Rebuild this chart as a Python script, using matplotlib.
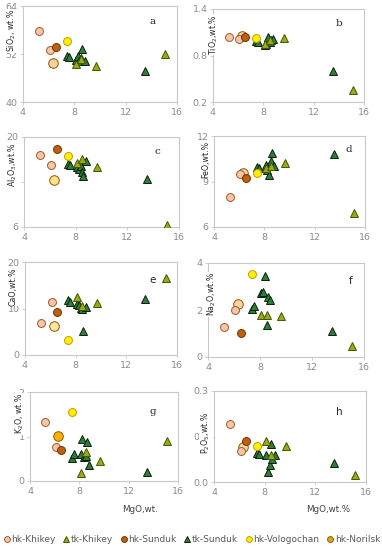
import matplotlib
matplotlib.use("Agg")
import matplotlib.pyplot as plt
from matplotlib.lines import Line2D

W, H = 382, 550

# ---------------- data ----------------
mgo_hk_khikey = [5.25, 6.1]
mgo_hk_norilsk = [6.3]
mgo_hk_sunduk = [6.55]
mgo_hk_volog = [7.4]
mgo_tk_khikey = [8.1, 8.5, 9.65, 15.1]
mgo_tk_sunduk = [7.4, 7.55, 8.1, 8.25, 8.4, 8.5, 8.6, 8.8, 13.5]

oxides = ["SiO2", "TiO2", "Al2O3", "FeO", "CaO", "Na2O", "K2O", "P2O5"]

hk_khikey = {
    "SiO2": [57.8, 53.1], "TiO2": [1.04, 1.01], "Al2O3": [17.15, 15.7], "FeO": [7.98, 9.48],
    "CaO": [6.93, 11.43], "Na2O": [1.29, 2.0], "K2O": [1.32, 0.76], "P2O5": [0.192, 0.101],
}
hk_norilsk = {
    "SiO2": [49.8], "TiO2": [1.05], "Al2O3": [13.25], "FeO": [9.53],
    "CaO": [6.14], "Na2O": [2.26], "K2O": [1.02], "P2O5": [0.115],
}
hk_sunduk = {
    "SiO2": [53.8], "TiO2": [1.035], "Al2O3": [18.1], "FeO": [9.2],
    "CaO": [9.2], "Na2O": [1.03], "K2O": [0.70], "P2O5": [0.135],
}
hk_volog = {
    "SiO2": [55.2], "TiO2": [1.02], "Al2O3": [17.05], "FeO": [9.53],
    "CaO": [3.14], "Na2O": [3.53], "K2O": [1.56], "P2O5": [0.118],
}
tk_khikey = {
    "SiO2": [49.6, 50.8, 48.9, 52.0], "TiO2": [0.95, 1.0, 1.02, 0.35],
    "Al2O3": [16.0, 16.5, 15.4, 6.3], "FeO": [9.9, 10.0, 10.2, 6.9],
    "CaO": [12.4, 10.6, 11.1, 16.6], "Na2O": [1.8, 1.79, 1.76, 0.47],
    "K2O": [0.17, 0.65, 0.46, 0.91], "P2O5": [0.135, 0.09, 0.118, 0.022],
}
tk_sunduk = {
    "SiO2": [51.5, 51.2, 50.5, 51.5, 50.2, 51.0, 53.2, 50.3, 47.8],
    "TiO2": [0.99, 0.97, 0.93, 0.95, 1.04, 0.97, 1.0, 1.01, 0.60],
    "Al2O3": [15.8, 15.6, 15.4, 15.0, 15.5, 14.5, 13.9, 16.3, 13.4],
    "FeO": [9.95, 9.9, 10.1, 9.75, 9.45, 10.35, 10.85, 10.0, 10.8],
    "CaO": [11.8, 11.5, 11.0, 10.8, 10.2, 9.9, 5.2, 10.4, 12.1],
    "Na2O": [2.04, 2.15, 2.72, 2.78, 3.46, 1.36, 2.55, 2.42, 1.1],
    "K2O": [0.52, 0.6, 0.6, 0.94, 0.55, 0.56, 0.88, 0.36, 0.2],
    "P2O5": [0.095, 0.092, 0.088, 0.033, 0.055, 0.125, 0.077, 0.09, 0.063],
}

yticks = {
    "SiO2": [40, 52, 64], "TiO2": [0.2, 0.8, 1.4], "Al2O3": [6, 13, 20], "FeO": [6, 9, 12],
    "CaO": [0, 10, 20], "Na2O": [0, 2, 4], "K2O": [0, 1, 2], "P2O5": [0.0, 0.15, 0.3],
}
ytick_labels = {
    "SiO2": ["40", "52", "64"], "TiO2": ["0.2", "0.8", "1.4"], "Al2O3": ["6", "13", "20"],
    "FeO": ["6", "9", "12"], "CaO": ["0", "10", "20"], "Na2O": ["0", "2", "4"],
    "K2O": ["0", "1", "2"], "P2O5": ["0.0", "0.2", "0.3"],
}
ylabels = {
    "SiO2": "SiO$_2$, wt.%", "TiO2": "TiO$_2$,wt.%", "Al2O3": "Al$_2$O$_3$,wt.%",
    "FeO": "FeO,wt.%", "CaO": "CaO,wt.%", "Na2O": "Na$_2$O,wt.%", "K2O": "K$_2$O, wt.%",
    "P2O5": "P$_2$O$_5$,wt.%",
}
letters = ["a", "b", "c", "d", "e", "f", "g", "h"]
xticks = [4, 8, 12, 16]
series_names = ["hk-Khikey", "tk-Khikey", "hk-Sunduk", "tk-Sunduk", "hk-Vologochan", "hk-Norilsk"]

# ---------------- layout (pixels) ----------------
# left, right, top, bottom
boxes = [
    (23, 177, 6, 102), (213, 364, 9, 102),
    (24, 179, 137, 227), (214, 365, 136, 227),
    (25, 177, 262, 355), (208, 364, 263, 357),
    (30, 178, 392, 481), (214, 366, 391, 482),
]
ylab_pos = [(12, 9), (214, 14), (13, 142), (206, 141), (13, 267), (212, 272), (20, 393), (206, 412)]
letter_pos = [(153, 21), (339, 23), (157, 152), (349, 150), (153, 280), (351, 281), (153, 412), (339, 412)]
letter_serif = [True, True, True, True, False, False, True, False]
norilsk_colors = ["#F9CFA5", "#FBD3A5", "#FFE08C", "#FBD8A8", "#FFE49A", "#FBD3A5", "#FFB000", "#FBD3A5"]

C_KH = "#F8C6A6"; E_KH = "#9C5B2E"
C_TKH = "#93AD17"; E_TKH = "#4A5200"
C_SUN = "#C0600F"; E_SUN = "#6B3300"
C_TSU = "#2F7D3B"; E_TSU = "#0A1F0A"
C_VOL = "#FFF000"; E_VOL = "#C89A00"
C_NOR_LEG = "#D9A81E"; E_NOR = "#8B5A00"

fig = plt.figure(figsize=(W / 100, H / 100), dpi=100)
fig.patch.set_facecolor("white")

def fx(px):
    return px / W

def fy(py):
    return 1 - py / H

ms_c = 5.7
ms_n = 6.9
ms_t = 5.8

for i, ox in enumerate(oxides):
    l, r, t, b = boxes[i]
    ax = fig.add_axes([fx(l), fy(b), (r - l) / W, (b - t) / H])
    ax.set_xlim(4, 16)
    yt = yticks[ox]
    ax.set_ylim(yt[0], yt[-1])
    ax.set_xticks(xticks)
    ax.set_xticklabels([str(v) for v in xticks])
    ax.set_yticks(yt)
    ax.set_yticklabels(ytick_labels[ox])
    for s in ax.spines.values():
        s.set_color("#C8C8C8")
        s.set_linewidth(0.8)
    ax.tick_params(axis="both", colors="#C8C8C8", labelcolor="#8C8C8C", labelsize=6.8,
                   length=2, width=0.6, pad=2)

    ax.plot(mgo_tk_sunduk, tk_sunduk[ox], "^", ms=ms_t, mfc=C_TSU, mec=E_TSU, mew=0.7, ls="none", zorder=3)
    ax.plot(mgo_tk_khikey, tk_khikey[ox], "^", ms=ms_t, mfc=C_TKH, mec=E_TKH, mew=0.7, ls="none", zorder=3)
    ax.plot(mgo_hk_norilsk, hk_norilsk[ox], "o", ms=ms_n, mfc=norilsk_colors[i], mec=E_NOR, mew=0.7, ls="none", zorder=4)
    ax.plot(mgo_hk_khikey, hk_khikey[ox], "o", ms=ms_c, mfc=C_KH, mec=E_KH, mew=0.7, ls="none", zorder=4)
    ax.plot(mgo_hk_sunduk, hk_sunduk[ox], "o", ms=ms_c, mfc=C_SUN, mec=E_SUN, mew=0.7, ls="none", zorder=4)
    ax.plot(mgo_hk_volog, hk_volog[ox], "o", ms=ms_c, mfc=C_VOL, mec=E_VOL, mew=0.7, ls="none", zorder=4)

    lx, ly = ylab_pos[i]
    fig.text(fx(lx), fy(ly), ylabels[ox], rotation=90, ha="center", va="top", fontsize=5.7,
             color="#262626", bbox=dict(facecolor="white", edgecolor="none", pad=0.3), zorder=10)
    px, py = letter_pos[i]
    fam = "DejaVu Serif" if letter_serif[i] else "DejaVu Sans"
    fig.text(fx(px), fy(py), letters[i], ha="center", va="center", fontsize=7.5,
             color="#262626", family=fam)

fig.text(fx(140), fy(509), "MgO,wt.", ha="center", va="center", fontsize=6.3, color="#404040")
fig.text(fx(328), fy(509), "MgO,wt.%", ha="center", va="center", fontsize=6.3, color="#404040")

handles = [
    Line2D([], [], marker="o", ls="none", ms=4.2, mfc=C_KH, mec=E_KH, mew=0.7),
    Line2D([], [], marker="^", ls="none", ms=4.2, mfc=C_TKH, mec=E_TKH, mew=0.7),
    Line2D([], [], marker="o", ls="none", ms=4.2, mfc=C_SUN, mec=E_SUN, mew=0.7),
    Line2D([], [], marker="^", ls="none", ms=4.2, mfc=C_TSU, mec=E_TSU, mew=0.7),
    Line2D([], [], marker="o", ls="none", ms=4.2, mfc=C_VOL, mec=E_VOL, mew=0.7),
    Line2D([], [], marker="o", ls="none", ms=4.2, mfc=C_NOR_LEG, mec=E_NOR, mew=0.7),
]
leg = fig.legend(handles, series_names, loc="center", bbox_to_anchor=(fx(192), fy(540)), ncol=6,
                 frameon=False, fontsize=6.5, handlelength=0.6, handletextpad=0.2,
                 columnspacing=0.9, borderaxespad=0)
for txt in leg.get_texts():
    txt.set_color("#595959")

fig.savefig("out.png", dpi=100, facecolor="white")
